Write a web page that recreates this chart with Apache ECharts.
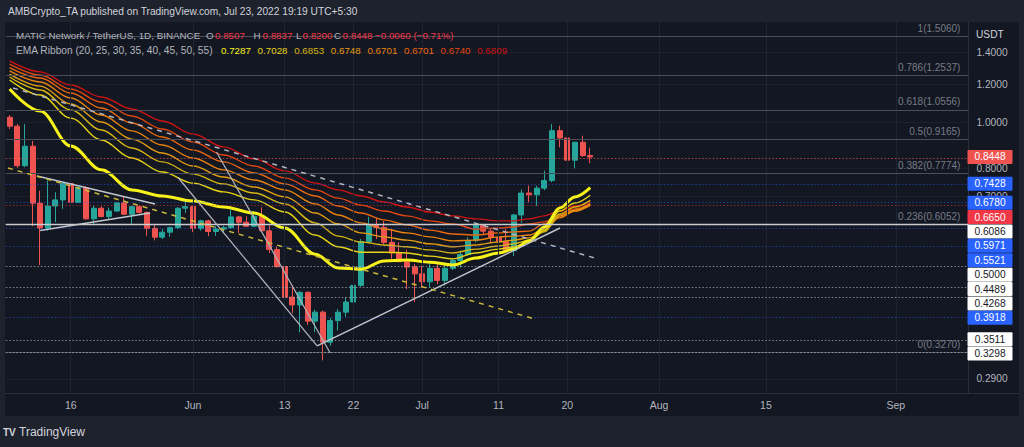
<!DOCTYPE html>
<html><head><meta charset="utf-8">
<script src="https://cdn.jsdelivr.net/npm/echarts@6/dist/echarts.min.js"></script>
<style>
html,body{margin:0;padding:0;background:#1e222d;overflow:hidden;}
#wrap{position:relative;width:1024px;height:447px;}
#panel{position:absolute;left:5px;top:22px;width:1014px;height:394px;background:#131722;}
#tband{position:absolute;left:5px;top:393px;width:1014px;height:23px;background:#131722;border-top:1px solid #2a2e39;box-sizing:border-box;}
#c{position:absolute;left:0;top:0;width:1024px;height:447px;}
</style></head><body><div id="wrap"><div id="panel"></div><div id="tband"></div><div id="c"></div></div>
<script>
// ---------- data ----------
const open  = [1.023,0.980,0.810,0.890,0.676,0.600,0.667,0.687,0.743,0.679,0.728,0.627,0.660,0.634,0.651,0.677,0.641,0.665,0.647,0.599,0.574,0.588,0.601,0.660,0.665,0.599,0.621,0.590,0.597,0.601,0.633,0.617,0.605,0.635,0.592,0.541,0.498,0.430,0.414,0.440,0.383,0.400,0.346,0.384,0.400,0.420,0.455,0.562,0.609,0.602,0.560,0.532,0.510,0.497,0.481,0.463,0.494,0.466,0.494,0.513,0.528,0.565,0.607,0.591,0.574,0.562,0.538,0.639,0.710,0.704,0.727,0.754,0.959,0.926,0.832,0.907,0.8507];
const high  = [1.034,0.990,0.990,0.913,0.718,0.754,0.713,0.747,0.750,0.734,0.734,0.668,0.666,0.662,0.679,0.699,0.668,0.670,0.649,0.611,0.597,0.604,0.663,0.684,0.668,0.624,0.624,0.605,0.607,0.656,0.636,0.635,0.651,0.663,0.607,0.549,0.505,0.455,0.442,0.442,0.405,0.403,0.389,0.406,0.430,0.470,0.569,0.633,0.632,0.620,0.597,0.560,0.540,0.505,0.500,0.505,0.503,0.500,0.518,0.538,0.574,0.612,0.612,0.597,0.588,0.597,0.642,0.722,0.736,0.736,0.791,0.990,0.982,0.944,0.910,0.936,0.8837];
const low   = [0.967,0.802,0.804,0.605,0.502,0.592,0.617,0.658,0.660,0.677,0.625,0.612,0.632,0.625,0.648,0.639,0.612,0.643,0.578,0.565,0.569,0.575,0.597,0.645,0.588,0.592,0.577,0.578,0.588,0.597,0.586,0.603,0.603,0.592,0.532,0.496,0.405,0.398,0.363,0.376,0.363,0.317,0.340,0.366,0.391,0.415,0.452,0.560,0.569,0.555,0.517,0.510,0.447,0.420,0.450,0.450,0.458,0.455,0.490,0.496,0.525,0.560,0.583,0.560,0.556,0.535,0.524,0.615,0.679,0.667,0.720,0.748,0.885,0.813,0.800,0.845,0.8200];
const close = [0.980,0.810,0.890,0.676,0.600,0.667,0.687,0.743,0.679,0.728,0.627,0.660,0.634,0.651,0.677,0.641,0.665,0.647,0.599,0.574,0.588,0.601,0.660,0.665,0.599,0.621,0.590,0.597,0.601,0.633,0.617,0.605,0.635,0.592,0.541,0.498,0.430,0.414,0.440,0.383,0.400,0.346,0.384,0.400,0.420,0.455,0.562,0.609,0.602,0.560,0.532,0.510,0.497,0.481,0.463,0.494,0.466,0.494,0.513,0.528,0.565,0.607,0.591,0.574,0.562,0.538,0.639,0.710,0.704,0.727,0.754,0.959,0.926,0.832,0.907,0.8508,0.8448];

// EMA ribbon, read at sample dates
const emaDates = ['2022-05-08','2022-05-12','2022-05-16','2022-05-20','2022-05-24','2022-05-28','2022-06-01','2022-06-05','2022-06-09','2022-06-13','2022-06-17','2022-06-20','2022-06-23','2022-06-26','2022-06-29','2022-07-02','2022-07-05','2022-07-08','2022-07-11','2022-07-13','2022-07-15','2022-07-17','2022-07-19','2022-07-21','2022-07-23'];
const ema20 = [1.172,1.054,0.891,0.794,0.721,0.700,0.683,0.664,0.645,0.600,0.529,0.495,0.492,0.512,0.514,0.509,0.502,0.519,0.532,0.542,0.564,0.603,0.661,0.697,0.7287];
const ema25 = [1.224,1.139,1.019,0.917,0.841,0.786,0.745,0.714,0.687,0.648,0.580,0.548,0.534,0.534,0.532,0.524,0.517,0.532,0.542,0.548,0.561,0.594,0.651,0.677,0.7028];
const ema30 = [1.242,1.167,1.060,0.962,0.882,0.825,0.778,0.742,0.710,0.674,0.615,0.577,0.561,0.553,0.548,0.540,0.532,0.542,0.550,0.556,0.566,0.589,0.642,0.664,0.6853];
const ema35 = [1.260,1.189,1.091,1.000,0.921,0.861,0.809,0.767,0.731,0.697,0.645,0.612,0.586,0.575,0.566,0.556,0.548,0.553,0.561,0.566,0.572,0.591,0.636,0.654,0.6748];
const ema40 = [1.279,1.213,1.123,1.034,0.958,0.895,0.841,0.794,0.756,0.721,0.674,0.639,0.615,0.597,0.586,0.575,0.564,0.566,0.575,0.577,0.580,0.597,0.630,0.651,0.6701];
const ema45 = [1.300,1.236,1.150,1.070,0.995,0.930,0.874,0.825,0.782,0.742,0.700,0.667,0.645,0.624,0.609,0.594,0.583,0.580,0.586,0.589,0.591,0.612,0.633,0.651,0.6701];
const ema50 = [1.322,1.254,1.172,1.101,1.029,0.967,0.908,0.853,0.809,0.764,0.721,0.693,0.670,0.651,0.636,0.621,0.612,0.597,0.600,0.603,0.612,0.618,0.639,0.658,0.6740];
const ema55 = [1.342,1.273,1.195,1.128,1.065,1.005,0.944,0.887,0.837,0.790,0.745,0.721,0.700,0.680,0.664,0.648,0.636,0.627,0.621,0.621,0.627,0.636,0.651,0.667,0.6809];
const emaPeriods = [20,25,30,35,40,45,50,55];

// Fibonacci retracement
const fibRatios = [1, 0.786, 0.618, 0.5, 0.382, 0.236, 0];
const fibPrices = [1.506, 1.2537, 1.0556, 0.9165, 0.7774, 0.6052, 0.327];

// horizontal price levels (right-hand badges)
const levelValues = [0.8448, 0.7428, 0.6780, 0.6650, 0.6086, 0.5971, 0.5521, 0.5000, 0.4489, 0.4268, 0.3918, 0.3511, 0.3298];
const levelKinds  = ['last','blue','blue','red','white','blue','blue','white','white','white','blue','white','white'];

// trend line drawings [time, price]
const drawTriUpper   = [['2022-05-11 14:00',0.7709],['2022-05-27 01:00',0.6736]];
const drawTriLower   = [['2022-05-12 00:00',0.5928],['2022-05-26 09:00',0.6450]];
const drawFallA      = [['2022-05-30 01:00',0.7653],['2022-06-17 06:00',0.3398]];
const drawFallB      = [['2022-06-04 02:00',0.8654],['2022-06-18 23:00',0.3285]];
const drawRise       = [['2022-06-17 06:00',0.3398],['2022-07-19 01:00',0.6000]];
const drawWhiteDash  = [['2022-05-08 11:00',1.1781],['2022-07-24 00:00',0.5168]];
const drawYellowDash = [['2022-05-07 19:00',0.8012],['2022-07-15 18:00',0.3870]];

// axes
const yTicks = [1.4, 1.2, 1.0, 0.8, 0.7, 0.29];
const xTickDates  = ['2022-05-16','2022-06-01','2022-06-13','2022-06-22','2022-07-01','2022-07-11','2022-07-20','2022-08-01','2022-08-15','2022-09-01'];
const xTickLabels = ['16','Jun','13','22','Jul','11','20','Aug','15','Sep'];

// ---------- build ----------
const categories = [];
const t0 = Date.UTC(2022,4,8);
for (let k = 0; k < 126; k++) categories.push(new Date(t0 + k*86400000).toISOString().slice(0,10));
const candleData = open.map((o,i) => [o, close[i], low[i], high[i]]);

const FONT = '"Liberation Sans", Arial, sans-serif';
const emaColors = ['#f7f21a','#e6d414','#d6b512','#e29c12','#e8820f','#e9670f','#e2460f','#cf1212'];
const emaSeriesData = [ema20,ema25,ema30,ema35,ema40,ema45,ema50,ema55];

const levelLine = {
  last: 'rgba(239,83,80,0.7)', red: 'rgba(242,54,69,0.55)', blue: 'rgba(41,98,255,0.5)', white: 'rgba(178,181,190,0.7)'
};
const badge = {
  last: {bg:'#ef5350', fg:'#ffffff'}, red: {bg:'#f23645', fg:'#ffffff'},
  blue: {bg:'#2962ff', fg:'#ffffff'}, white: {bg:'#ffffff', fg:'#131722'}
};

const series = [];
// vertical grid lines
series.push({type:'line', data:[], silent:true, z:0,
  markLine:{silent:true, symbol:'none', animation:false, label:{show:false},
    lineStyle:{color:'#1f2431', type:'solid', width:1},
    data: xTickDates.map(d => ({xAxis:d}))}});
// fib lines
series.push({type:'line', data:[], silent:true, z:1,
  markLine:{silent:true, symbol:'none', animation:false,
    lineStyle:{color:'#4c4f59', type:'solid', width:1},
    label:{show:true, position:'insideEndTop', distance:[8,3], color:'#787b86', fontSize:10, fontFamily:FONT},
    data: fibPrices.map((p,k) => ({yAxis:p,
      lineStyle: fibRatios[k] === 0.236 ? {color:'#9598a1', width:1.2} : undefined,
      label:{formatter: fibRatios[k] + '(' + p.toFixed(4) + ')'}}))}});
// price levels
series.push({type:'line', data:[], silent:true, z:1,
  markLine:{silent:true, symbol:'none', animation:false, label:{show:false},
    data: levelValues.map((v,k) => ({yAxis:v,
      lineStyle: v === 0.6086 ? {color:'#c8cbd2', type:'solid', width:1.3}
                              : {color:levelLine[levelKinds[k]], type:[1.5,2], width:1.2}}))}});
// candles
series.push({type:'candlestick', name:'MATIC', data:candleData, barWidth:'72%', z:3,
  itemStyle:{color:'#26a69a', color0:'#ef5350', borderColor:'#26a69a', borderColor0:'#ef5350', borderWidth:1}});
// EMA ribbon (draw 55 first so 20 is on top)
for (let k = 7; k >= 0; k--) {
  series.push({type:'line', name:'EMA'+emaPeriods[k], data: emaDates.map((d,j) => [d, emaSeriesData[k][j]]),
    smooth:0.35, smoothMonotone:'x', showSymbol:false, symbol:'none', silent:true, z:4,
    lineStyle:{color:emaColors[k], width: k===0 ? 3 : 1.4}});
}
// drawings
function drawing(data, color, type, width) {
  return {type:'line', xAxisIndex:1, data:data, showSymbol:false, symbol:'none', silent:true, z:5,
    lineStyle:{color:color, type:type, width:width}};
}
series.push(drawing(drawTriUpper, '#c3c6ce', 'solid', 1.4));
series.push(drawing(drawTriLower, '#c3c6ce', 'solid', 1.4));
series.push(drawing(drawFallA, '#b2b5be', 'solid', 1.2));
series.push(drawing(drawFallB, '#b2b5be', 'solid', 1.2));
series.push(drawing(drawRise, '#c3c6ce', 'solid', 1.4));
series.push(drawing(drawWhiteDash, '#b2b5be', [5,5], 1.5));
series.push(drawing(drawYellowDash, '#c9b83a', [5,5], 1.5));

const lastI = close.length - 1;
const chg = close[lastI] - close[lastI-1];
const pct = chg / close[lastI-1] * 100;
const fmtS = v => (v < 0 ? '\u2212' : '+') + Math.abs(v).toFixed(4);

const G = '#b2b5be', R = '#f23645';
const LS = 9.8;
function txt(id, x, y, s, fill, size, weight) {
  return {type:'text', id:id, x:x, y:y, z:50, silent:true,
    style:{text:s, fill:fill, font: (weight ? weight + ' ' : '') + (size||LS) + 'px ' + FONT, verticalAlign:'middle'}};
}
const graphics = [
  txt('hdr', 8, 11, 'AMBCrypto_TA published on TradingView.com, Jul 23, 2022 19:19 UTC+5:30', '#d1d4dc', 10.2),
  txt('l1a', 16, 35, 'MATIC Network / TetherUS, 1D, BINANCE', G, 9.8),
  txt('l1o', 206, 35, 'O', G), txt('l1ov', 215, 35, open[lastI].toFixed(4), R),
  txt('l1h', 253.5, 35, 'H', G), txt('l1hv', 262.5, 35, high[lastI].toFixed(4), R),
  txt('l1l', 296, 35, 'L', G), txt('l1lv', 302.5, 35, low[lastI].toFixed(4), R),
  txt('l1c', 334, 35, 'C', G), txt('l1cv', 342.5, 35, close[lastI].toFixed(4), R),
  txt('l1d', 375, 35, fmtS(chg) + ' (' + (pct<0?'\u2212':'+') + Math.abs(pct).toFixed(2) + '%)', R),
  txt('l2a', 16, 50, 'EMA Ribbon (' + emaPeriods.join(', ') + ')', G, 10.2),
  txt('usdt', 976, 34, 'USDT', '#d1d4dc', 10.2),
  txt('logo', 3, 432, 'TV', '#d1d4dc', 10, 'bold'),
  txt('logot', 19, 432, 'TradingView', '#d1d4dc', 12)
];
emaSeriesData.forEach((arr,k) => {
  graphics.push(txt('l2v'+k, 221 + k*36.6, 50, arr[arr.length-1].toFixed(4), emaColors[k]));
});

const option = {
  animation:false,
  backgroundColor:'transparent',
  grid:{left:5.8, right:55.6, top:22, bottom:54, containLabel:false},
  xAxis:[
    {type:'category', data:categories, boundaryGap:true,
      axisLine:{show:false}, axisTick:{show:false}, splitLine:{show:false},
      axisLabel:{color:'#b2b5be', fontSize:10.5, fontFamily:FONT, margin:6,
        interval:(idx, val) => xTickDates.indexOf(val) >= 0,
        formatter:(val) => { const k = xTickDates.indexOf(val); return k >= 0 ? xTickLabels[k] : ''; }}},
    {type:'time', show:false, min:'2022-05-07 12:00', max:'2022-09-10 12:00'}
  ],
  yAxis:{type:'log', logBase:10, min:0.2709, max:1.6192, position:'right',
    axisLine:{show:true, lineStyle:{color:'#2a2e39'}},
    axisTick:{show:false, customValues:yTicks},
    axisLabel:{customValues:yTicks, formatter:(v) => Number(v).toFixed(4), color:'#b2b5be', fontSize:10.2, fontFamily:FONT, margin:8},
    splitLine:{show:true, lineStyle:{color:'#1c202b', width:1}}},
  series:series,
  graphic:graphics
};

const chart = echarts.init(document.getElementById('c'), null, {renderer:'svg', width:1024, height:447});
chart.setOption(option);

// stacked badges on the price scale (positions from the y axis scale)
const badgeEls = [];
let prevY = -1e9;
levelValues.forEach((v,k) => {
  const py = chart.convertToPixel({yAxisIndex:0}, v);
  const y = Math.max(py, prevY + 14.4);
  prevY = y;
  const b = badge[levelKinds[k]];
  badgeEls.push({type:'rect', id:'bb'+k, z:100, silent:true, shape:{x:967.5, y:y-7, width:45, height:14, r:1}, style:{fill:b.bg}});
  badgeEls.push({type:'text', id:'bt'+k, z:101, silent:true, x:990, y:y,
    style:{text:v.toFixed(4), fill:b.fg, font:'10.2px ' + FONT, align:'center', verticalAlign:'middle'}});
});
chart.setOption({graphic: badgeEls});
</script></body></html>
